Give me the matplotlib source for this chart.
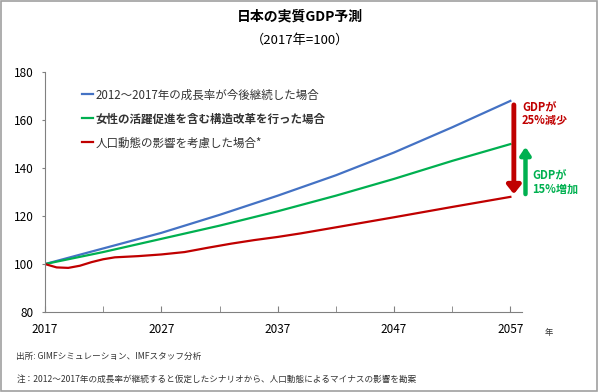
import matplotlib.pyplot as plt
from matplotlib.patches import Rectangle

plt.rcParams['font.family'] = ['Noto Sans CJK JP', 'DejaVu Sans']

# 実質GDP (2017年=100)
years_blue = [2017, 2022, 2027, 2032, 2037, 2042, 2047, 2052, 2057]
blue = [100, 106.5, 113, 120.5, 128.5, 137, 146.5, 157, 168]
years_green = [2017, 2022, 2027, 2032, 2037, 2042, 2047, 2052, 2057]
green = [100, 105, 110.5, 116, 122, 128.5, 135.5, 143, 150]
years_red = [2017, 2018, 2019, 2020, 2021, 2022, 2023, 2025, 2027, 2029, 2031, 2033,
             2035, 2037, 2039, 2042, 2047, 2052, 2057]
red = [100, 98.6, 98.4, 99.3, 100.8, 102, 102.8, 103.3, 104, 105, 106.8, 108.5,
       110, 111.3, 112.8, 115.3, 119.5, 123.8, 128]

labels = ['2012～2017年の成長率が今後継続した場合',
          '女性の活躍促進を含む構造改革を行った場合',
          '人口動態の影響を考慮した場合*']
xticks = [2017, 2027, 2037, 2047, 2057]

c_blue = '#4472C4'
c_green = '#00B050'
c_red = '#C00000'

fig = plt.figure(figsize=(6, 3.92), dpi=100)
fig.patches.append(Rectangle((0.002, 0.002), 0.993, 0.995, transform=fig.transFigure,
                             fill=False, edgecolor='#a0a0a0', linewidth=1.2))
ax = fig.add_axes([0.075, 0.204, 0.795, 0.612])

ax.plot(years_blue, blue, color=c_blue, lw=1.6, label=labels[0])
ax.plot(years_green, green, color=c_green, lw=1.6, label=labels[1])
ax.plot(years_red, red, color=c_red, lw=1.6, label=labels[2])

ax.set_xlim(2017, 2058)
ax.set_ylim(80, 180)
ax.set_xticks(xticks)
ax.set_xticks(range(2022, 2058, 10), minor=True)
ax.set_yticks(range(80, 181, 20))
ax.tick_params(axis='x', direction='in', length=4, color='#808080', labelsize=8.5, pad=8)
ax.tick_params(axis='x', which='minor', direction='in', length=4, color='#808080')
ax.tick_params(axis='y', direction='out', length=2, color='#808080', labelsize=8.5, pad=6)
for s in ['top', 'right']:
    ax.spines[s].set_visible(False)
for s in ['left', 'bottom']:
    ax.spines[s].set_color('#808080')

leg = ax.legend(loc='upper left', bbox_to_anchor=(0.055, 0.975), frameon=False,
                fontsize=8.3, handlelength=1.0, handletextpad=0.2, labelspacing=0.95)
leg.get_texts()[1].set_fontweight('bold')
for t in leg.get_texts():
    t.set_color('#333333')

# 矢印
xa_red = 2057.3
ax.annotate('', xy=(xa_red, red[-1]), xytext=(xa_red, blue[-1] - 0.5),
            arrowprops=dict(arrowstyle='-|>,head_width=0.4,head_length=0.5',
                            color=c_red, lw=3.5), annotation_clip=False)
xa_green = 2058.3
ax.annotate('', xy=(xa_green, green[-1]), xytext=(xa_green, red[-1]),
            arrowprops=dict(arrowstyle='-|>,head_width=0.3,head_length=0.45',
                            color=c_green, lw=3.2), annotation_clip=False)
ax.text(2058.0, 162.5, 'GDPが\n25%減少', color=c_red, fontsize=8, fontweight='bold',
        va='center', ha='left', linespacing=1.0, clip_on=False)
ax.text(2058.9, 134, 'GDPが\n15%増加', color=c_green, fontsize=8, fontweight='bold',
        va='center', ha='left', linespacing=1.0, clip_on=False)

fig.text(0.908, 0.152, '年', fontsize=6, color='#333333', ha='left', va='center')

fig.text(0.5, 0.957, '日本の実質GDP予測', fontsize=10, fontweight='bold', ha='center', va='center')
fig.text(0.5, 0.898, '（2017年=100）', fontsize=9.5, ha='center', va='center')

fig.text(0.027, 0.092, '出所: GIMFシミュレーション、IMFスタッフ分析', fontsize=6.2,
         ha='left', va='center', color='#333333')
fig.text(0.027, 0.033, '注：2012～2017年の成長率が継続すると仮定したシナリオから、人口動態によるマイナスの影響を勘案',
         fontsize=6.2, ha='left', va='center', color='#333333')

fig.savefig('out.png', dpi=100)
